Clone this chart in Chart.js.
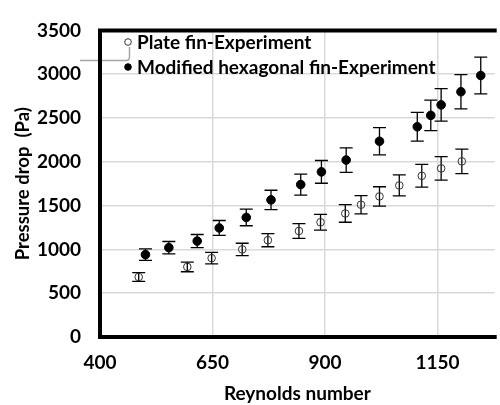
<!DOCTYPE html>
<html>
<head>
<meta charset="utf-8">
<script src="https://cdn.jsdelivr.net/npm/chart.js@4.4.1/dist/chart.umd.min.js"></script>
<style>
  html, body { margin: 0; padding: 0; background: #fff; }
  #wrap { position: relative; width: 500px; height: 405px; overflow: hidden; }
</style>
</head>
<body>
<div id="wrap"><canvas id="chart"></canvas></div>
<script>
  // Plate fin
  const plateRe  = [486, 594, 648, 716, 773, 842, 890, 945, 980, 1021, 1065, 1115, 1158, 1204];
  const plateDp  = [685, 800, 900, 1000, 1105, 1210, 1310, 1410, 1510, 1605, 1730, 1840, 1925, 2005];
  const plateErr = [50, 55, 65, 70, 75, 85, 90, 100, 105, 110, 120, 130, 135, 140];

  // Modified hexagonal fin
  const hexRe  = [501, 553, 616, 665, 725, 780, 846, 892, 947, 1021, 1105, 1135, 1158, 1202, 1246];
  const hexDp  = [940, 1020, 1095, 1245, 1365, 1565, 1740, 1885, 2020, 2235, 2400, 2530, 2650, 2800, 2985];
  const hexErr = [65, 70, 75, 85, 95, 110, 120, 130, 140, 155, 165, 175, 185, 195, 210];

  const seriesNames = ['Plate fin-Experiment', 'Modified hexagonal fin-Experiment'];
  const xTicks = [400, 650, 900, 1150];
  const yTicks = [0, 500, 1000, 1500, 2000, 2500, 3000, 3500];

  const FONT = 'Lato, "Open Sans", sans-serif';

  function pts(xs, ys){ return xs.map((x,i)=>({ x, y: ys[i] })); }

  // error bars, drawn under the markers
  const errorBars = {
    id: 'errorBars',
    beforeDatasetsDraw(chart){
      const { ctx, scales: { x, y } } = chart;
      ctx.save();
      ctx.strokeStyle = '#000';
      ctx.lineWidth = 1.3;
      chart.data.datasets.forEach(ds => {
        ds.data.forEach((p, i) => {
          const e = ds.errors[i];
          const px = x.getPixelForValue(p.x);
          const top = y.getPixelForValue(p.y + e);
          const bot = y.getPixelForValue(p.y - e);
          ctx.beginPath();
          ctx.moveTo(px, top); ctx.lineTo(px, bot);
          ctx.moveTo(px-6.5, top); ctx.lineTo(px+6.5, top);
          ctx.moveTo(px-6.5, bot); ctx.lineTo(px+6.5, bot);
          ctx.stroke();
        });
      });
      ctx.restore();
    }
  };

  // frame, legend and the little leftover connector line
  const decor = {
    id: 'decor',
    afterDraw(chart){
      const { ctx, chartArea: a } = chart;
      ctx.save();
      // leftover grey connector
      ctx.strokeStyle = '#a6a6a6';
      ctx.lineWidth = 1.5;
      ctx.beginPath();
      ctx.moveTo(80, 60.5); ctx.lineTo(126, 60.5);
      ctx.quadraticCurveTo(129.5, 60.5, 129.5, 57);
      ctx.lineTo(129.5, 47);
      ctx.stroke();

      // frame (top, left, bottom)
      ctx.strokeStyle = '#000';
      ctx.lineWidth = 4;
      ctx.lineJoin = 'miter';
      ctx.beginPath();
      ctx.moveTo(a.right + 2, a.top);
      ctx.lineTo(a.left, a.top);
      ctx.lineTo(a.left, a.bottom);
      ctx.lineTo(a.right + 2, a.bottom);
      ctx.stroke();

      // legend
      ctx.font = 'bold 19px ' + FONT;
      ctx.textBaseline = 'middle';
      ctx.textAlign = 'left';
      const rows = [42, 67];
      chart.data.datasets.forEach((ds, i) => {
        ctx.fillStyle = ds.legendFill;
        ctx.strokeStyle = ds.borderColor;
        ctx.lineWidth = 1;
        ctx.beginPath();
        ctx.arc(128, rows[i], 3.3, 0, Math.PI*2);
        ctx.fill(); ctx.stroke();
        ctx.fillStyle = '#000';
        ctx.fillText(seriesNames[i], 137, rows[i] + 1);
      });
      ctx.restore();
    }
  };

  const tickFont = { family: FONT, size: 19, weight: 'bold' };

  new Chart(document.getElementById('chart'), {
    type: 'scatter',
    data: {
      datasets: [
        {
          label: seriesNames[0],
          data: pts(plateRe, plateDp),
          errors: plateErr,
          pointStyle: 'circle',
          pointRadius: 3.8,
          pointBorderWidth: 1,
          borderColor: '#333',
          backgroundColor: 'rgba(255,255,255,0)',
          legendFill: '#fff'
        },
        {
          label: seriesNames[1],
          data: pts(hexRe, hexDp),
          errors: hexErr,
          pointStyle: 'circle',
          pointRadius: 4.3,
          pointBorderWidth: 1,
          borderColor: '#000',
          backgroundColor: '#000',
          legendFill: '#000'
        }
      ]
    },
    options: {
      responsive: true,
      maintainAspectRatio: false,
      animation: false,
      devicePixelRatio: 1,
      layout: { padding: { top: 20.5, right: 0, bottom: 0, left: 0 } },
      plugins: { legend: { display: false }, tooltip: { enabled: false } },
      scales: {
        x: {
          type: 'linear',
          min: 400,
          max: 1277,
          afterFit(s){ s.height = 68; },
          afterBuildTicks(s){ s.ticks = xTicks.map(v => ({ value: v })); },
          border: { display: false },
          grid: { color: '#d9d9d9', lineWidth: 1.5, drawTicks: false },
          ticks: { padding: 14.6, color: '#000', font: tickFont, callback: v => String(v), maxRotation: 0 },
          title: { display: true, text: 'Reynolds number', color: '#000',
                   font: { family: FONT, size: 19, weight: 'bold' }, padding: { top: 0, bottom: 0 } }
        },
        y: {
          min: 0,
          max: 3500,
          afterFit(s){ s.width = 100; },
          afterBuildTicks(s){ s.ticks = yTicks.map(v => ({ value: v })); },
          border: { display: false },
          grid: { color: '#d9d9d9', lineWidth: 1.5, drawTicks: false },
          ticks: { padding: 19, color: '#000', font: tickFont, callback: v => String(v) },
          title: { display: true, text: 'Pressure drop  (Pa)', color: '#000',
                   font: { family: FONT, size: 18.5, weight: 'bold' }, padding: { top: 12, bottom: 0 } }
        }
      }
    },
    plugins: [errorBars, decor]
  });
</script>
</body>
</html>
